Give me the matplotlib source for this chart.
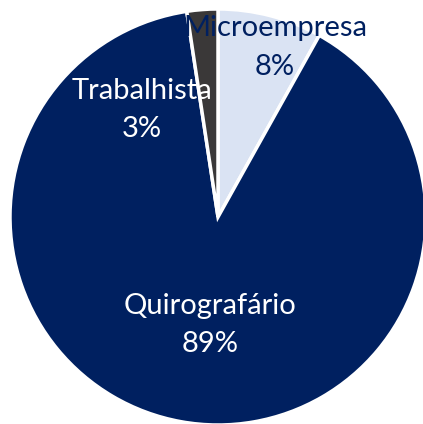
import matplotlib
matplotlib.use("Agg")
import matplotlib.pyplot as plt

categories = ["Microempresa", "Quirografário", "Trabalhista"]
values = [8.1, 89.5, 2.4]
pct_labels = ["8%", "89%", "3%"]
colors = ["#DAE3F3", "#002060", "#3A3838"]
text_colors = ["#002060", "white", "white"]

plt.rcParams['font.family'] = ['Lato', 'DejaVu Sans']

W, H = 423, 424
cx, cy, R = 218, 217, 208
fig = plt.figure(figsize=(W / 100, H / 100), dpi=100)
ax = fig.add_axes([0, 0, 1, 1])
ax.pie(values, colors=colors, startangle=90, counterclock=False, radius=1,
       wedgeprops=dict(edgecolor="white", linewidth=2.5))
ax.set_xlim(-cx / R, (W - cx) / R)
ax.set_ylim(-(H - cy) / R, cy / R)
ax.set_aspect("equal")
ax.axis("off")

label_pos = [(0.274, 0.815), (-0.04, -0.52), (-0.365, 0.515)]
for cat, p, tc, (x, y) in zip(categories, pct_labels, text_colors, label_pos):
    ax.text(x, y, f"{cat}\n{p}", ha="center", va="center", color=tc,
            fontsize=21, linespacing=1.58)

fig.savefig("out.png", dpi=100)
